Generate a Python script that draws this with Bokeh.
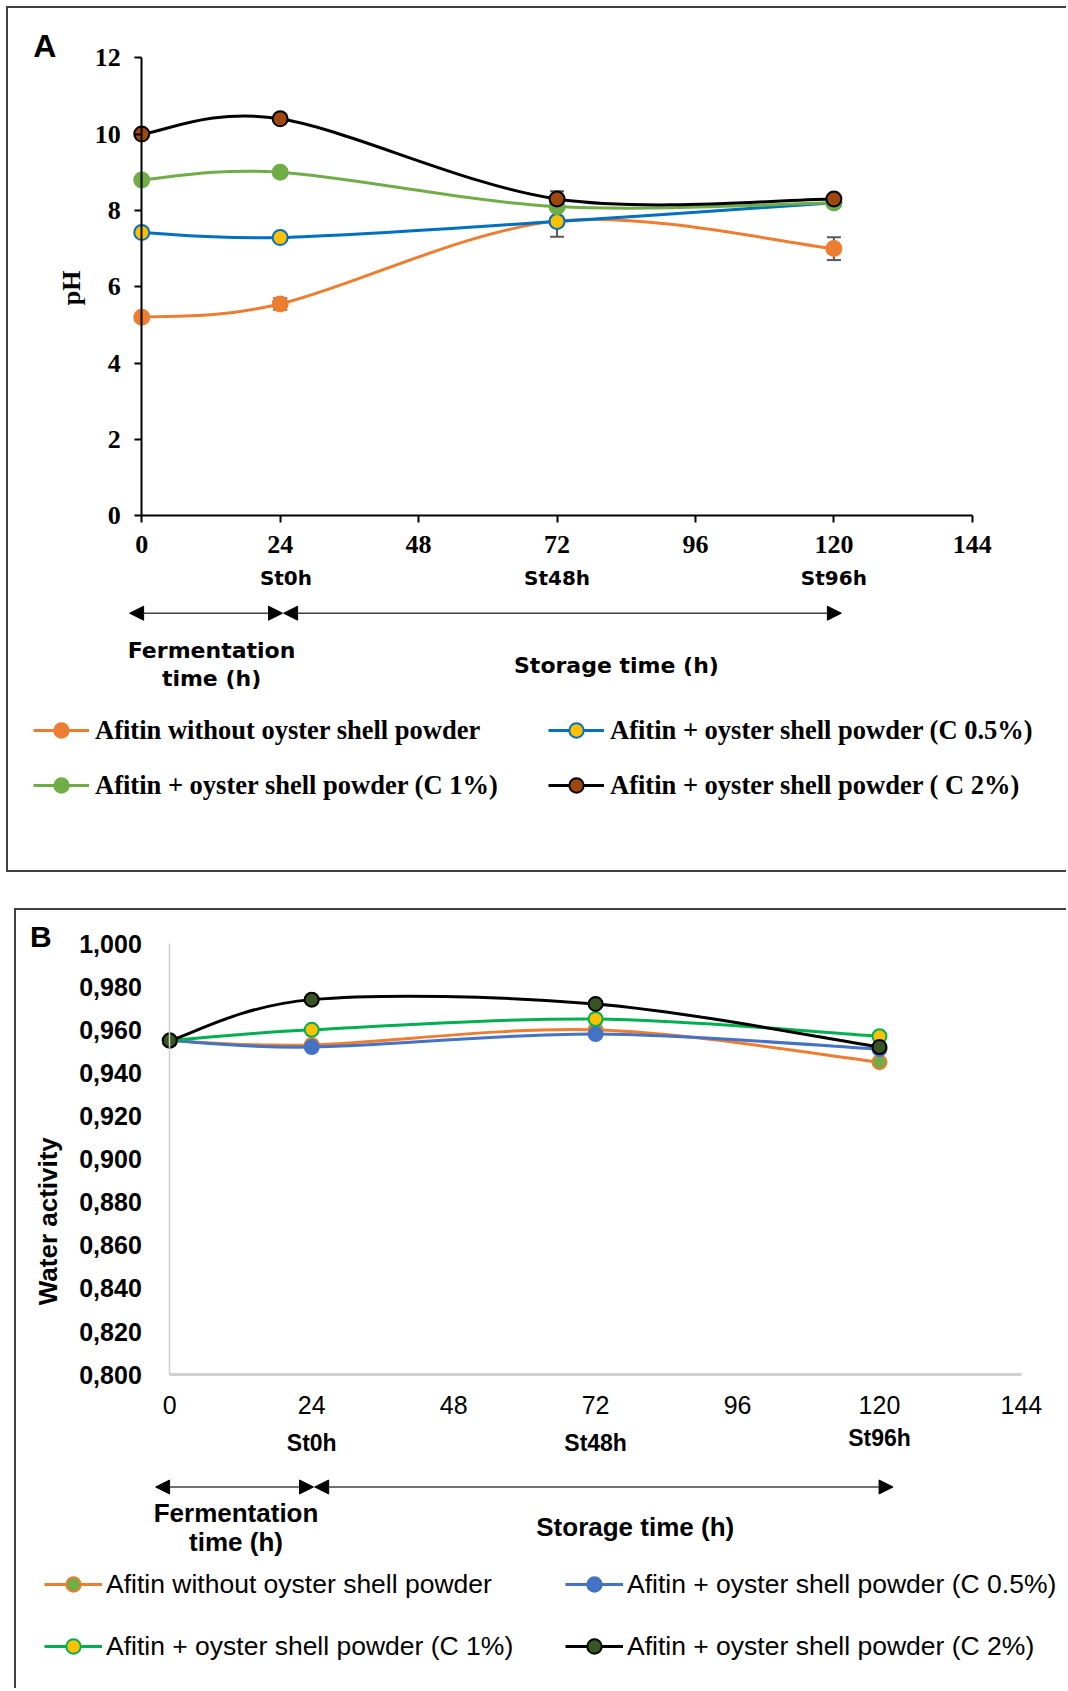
from bokeh.plotting import figure
from bokeh.models import (ColumnDataSource, Legend, LegendItem, Label, Arrow, NormalHead,
                          Whisker, TeeHead, FixedTicker, CustomJSTickFormatter, Range1d)
from bokeh.layouts import column
from bokeh.embed import file_html
from bokeh.resources import INLINE

# ---------------- data ----------------
hours = [0, 24, 72, 120]
x_ticks = [0, 24, 48, 72, 96, 120, 144]
st_hours = [24, 72, 120]
st_labels = ["St0h", "St48h", "St96h"]

names_A = ["Afitin without oyster shell powder",
           "Afitin + oyster shell powder (C 0.5%)",
           "Afitin + oyster shell powder (C 1%)",
           "Afitin + oyster shell powder ( C 2%)"]
names_B = ["Afitin without oyster shell powder",
           "Afitin + oyster shell powder (C 0.5%)",
           "Afitin + oyster shell powder (C 1%)",
           "Afitin + oyster shell powder (C 2%)"]

ph_without = [5.2, 5.55, 7.72, 7.0]
ph_c05 = [7.42, 7.29, 7.71, 8.2]
ph_c1 = [8.8, 9.0, 8.1, 8.2]
ph_c2 = [10.0, 10.4, 8.3, 8.3]
ph_err_without = [0.05, 0.15, 0.1, 0.3]
ph_err_c05 = [0.05, 0.05, 0.4, 0.05]
ph_err_c1 = [0.05, 0.05, 0.05, 0.05]
ph_err_c2 = [0.05, 0.05, 0.2, 0.05]
ph_ticks = [0, 2, 4, 6, 8, 10, 12]

aw_without = [0.955, 0.953, 0.960, 0.945]
aw_c05 = [0.955, 0.952, 0.958, 0.951]
aw_c1 = [0.955, 0.960, 0.965, 0.957]
aw_c2 = [0.955, 0.974, 0.972, 0.952]
aw_ticks = [0.80, 0.82, 0.84, 0.86, 0.88, 0.90, 0.92, 0.94, 0.96, 0.98, 1.00]


def smooth_source(xs, ys):
    """Bezier control points (Catmull-Rom style, like a smoothed spreadsheet line)."""
    n = len(xs)
    d = dict(x0=[], y0=[], x1=[], y1=[], cx0=[], cy0=[], cx1=[], cy1=[])
    for i in range(n - 1):
        pm, pp = max(i - 1, 0), min(i + 2, n - 1)
        d["x0"].append(xs[i]); d["y0"].append(ys[i])
        d["x1"].append(xs[i + 1]); d["y1"].append(ys[i + 1])
        d["cx0"].append(xs[i] + (xs[i + 1] - xs[pm]) / 6)
        d["cy0"].append(ys[i] + (ys[i + 1] - ys[pm]) / 6)
        d["cx1"].append(xs[i + 1] - (xs[pp] - xs[i]) / 6)
        d["cy1"].append(ys[i + 1] - (ys[pp] - ys[i]) / 6)
    return ColumnDataSource(d)


def add_series(p, ys, line_color, fill_color, edge_color, size):
    b = p.bezier(x0="x0", y0="y0", x1="x1", y1="y1", cx0="cx0", cy0="cy0", cx1="cx1", cy1="cy1",
                 source=smooth_source(hours, ys), line_color=line_color, line_width=3)
    s = p.scatter(hours, ys, size=size, fill_color=fill_color, line_color=edge_color, line_width=2)
    return [b, s]


def lab(p, x, y, text, font, size, bold=True, angle=0):
    p.add_layout(Label(x=x, y=y, text=text, text_align="center", text_baseline="middle",
                       text_font=font, text_font_style="bold" if bold else "normal",
                       text_font_size=size, text_color="black", angle=angle, angle_units="deg"))


def ranges(content_px, v0_px, v1_px, v0, v1):
    """Range covering the whole canvas so that v0/v1 land on the wanted pixel positions."""
    lo_px, hi_px = content_px
    per_px = (v1 - v0) / (v1_px - v0_px)
    a = v0 + (lo_px - v0_px) * per_px
    b = v0 + (hi_px - v0_px) * per_px
    return Range1d(a, b)


def head():
    return NormalHead(size=14, fill_color="black", line_color="black")


# ================= Panel A =================
A_W, A_H = 1060, 866
# canvas content spans x 8..1066 and y 8..870 on the page
xrA = ranges((8, 1066), 141, 970, 0, 144)
yrA = ranges((870, 8), 513, 57, 0, 12)
pA = figure(width=A_W, height=A_H, x_range=xrA, y_range=yrA,
            output_backend="svg", toolbar_location=None,
            min_border_left=0, min_border_right=0, min_border_top=0, min_border_bottom=0)
pA.styles = {"border-top": "2px solid #404040", "border-left": "2px solid #404040",
             "border-bottom": "2px solid #404040"}
pA.margin = (6, 0, 0, 6)
pA.outline_line_color = None
pA.grid.visible = False

serif = "Liberation Serif"
for ax in (pA.xaxis[0], pA.yaxis[0]):
    ax.fixed_location = 0
    ax.axis_line_color = "black"
    ax.axis_line_width = 2
    ax.major_tick_line_color = "black"
    ax.major_tick_line_width = 2
    ax.major_tick_out = 7
    ax.major_tick_in = 0
    ax.minor_tick_line_color = None
    ax.major_label_text_font = serif
    ax.major_label_text_font_style = "bold"
    ax.major_label_text_font_size = "26px"
    ax.major_label_text_color = "black"
pA.xaxis.bounds = (0, 144)
pA.yaxis.bounds = (0, 12)
pA.xaxis.ticker = FixedTicker(ticks=x_ticks)
pA.yaxis.ticker = FixedTicker(ticks=ph_ticks)
pA.xaxis.major_label_standoff = 13
pA.yaxis.major_label_standoff = 14

errs = [(ph_without, ph_err_without), (ph_c05, ph_err_c05), (ph_c1, ph_err_c1), (ph_c2, ph_err_c2)]
for ys, es in errs:
    src = ColumnDataSource(dict(x=hours, up=[y + e for y, e in zip(ys, es)],
                                lo=[y - e for y, e in zip(ys, es)]))
    w = Whisker(source=src, base="x", upper="up", lower="lo", dimension="height",
                line_color="#595959", line_width=2, level="underlay",
                upper_head=TeeHead(size=14, line_color="#595959", line_width=2),
                lower_head=TeeHead(size=14, line_color="#595959", line_width=2))
    pA.add_layout(w)

rA = [
    add_series(pA, ph_without, "#ED7D31", "#ED7D31", "#ED7D31", 15),
    add_series(pA, ph_c05, "#0070C0", "#FFC000", "#0070C0", 15),
    add_series(pA, ph_c1, "#70AD47", "#70AD47", "#70AD47", 15),
    add_series(pA, ph_c2, "#000000", "#9E480E", "#000000", 15),
]

legA = Legend(items=[LegendItem(label=n, renderers=r) for n, r in zip(names_A, rA)],
              location=(25, 71), orientation="horizontal", nrows=2,
              glyph_width=56, glyph_height=36, label_standoff=6, label_width=434,
              spacing=19, padding=0, margin=0,
              border_line_color=None, background_fill_alpha=0,
              label_text_font=serif, label_text_font_style="bold",
              label_text_font_size="26.5px", label_text_color="black")
pA.add_layout(legA)

sans_a = "DejaVu Sans"
for h, t in zip(st_hours, st_labels):
    lab(pA, h + (1 if h == 24 else 0), -1.62, t, sans_a, "20px")
lab(pA, 12.1, -3.52, "Fermentation", sans_a, "22px")
lab(pA, 12.1, -4.27, "time (h)", sans_a, "22px")
lab(pA, 82.3, -3.92, "Storage time (h)", sans_a, "22px")
lab(pA, -16.8, 12.3, "A", "Liberation Sans", "32px")
lab(pA, -12.1, 5.97, "pH", serif, "26px", angle=90)

pA.add_layout(Arrow(x_start=24.4, y_start=-2.55, x_end=-2.1, y_end=-2.55, start=head(), end=head(),
                    line_color="#404040", line_width=1.5))
pA.add_layout(Arrow(x_start=24.6, y_start=-2.55, x_end=121.3, y_end=-2.55, start=head(), end=head(),
                    line_color="#404040", line_width=1.5))

# ================= Panel B =================
B_W, B_H = 1052, 780
# canvas content spans x 16..1066 and y 910..1688 on the page
xrB = ranges((16, 1066), 169, 1019, 0, 144)
yrB = ranges((1688, 910), 1373, 943, 0.8, 1.0)
pB = figure(width=B_W, height=B_H, x_range=xrB, y_range=yrB,
            output_backend="svg", toolbar_location=None,
            min_border_left=0, min_border_right=0, min_border_top=0, min_border_bottom=0)
pB.styles = {"border-top": "2px solid #404040", "border-left": "2px solid #404040"}
pB.margin = (36, 0, 0, 14)
pB.outline_line_color = None
pB.grid.visible = False

arial = "Liberation Sans"
for ax in (pB.xaxis[0], pB.yaxis[0]):
    ax.major_tick_line_color = None
    ax.minor_tick_line_color = None
    ax.major_label_text_font = arial
    ax.major_label_text_font_size = "25px"
    ax.major_label_text_color = "black"
pB.xaxis.fixed_location = 0.8
pB.yaxis.fixed_location = 0
pB.xaxis.bounds = (0, 144)
pB.yaxis.bounds = (0.8, 1.0)
pB.xaxis.axis_line_color = "#D0D0D0"
pB.xaxis.axis_line_width = 3
pB.yaxis.axis_line_color = "#D0D0D0"
pB.yaxis.axis_line_width = 1.5
pB.xaxis.ticker = FixedTicker(ticks=x_ticks)
pB.yaxis.ticker = FixedTicker(ticks=aw_ticks)
pB.yaxis.formatter = CustomJSTickFormatter(code="return tick.toFixed(3).replace('.', ',');")
pB.yaxis.major_label_text_font_style = "bold"
pB.xaxis.major_label_standoff = 15
pB.yaxis.major_label_standoff = 22

rB = [
    add_series(pB, aw_without, "#ED7D31", "#70AD47", "#ED7D31", 14),
    add_series(pB, aw_c05, "#4472C4", "#4472C4", "#4472C4", 14),
    add_series(pB, aw_c1, "#00B050", "#FFC000", "#00B050", 14),
    add_series(pB, aw_c2, "#000000", "#375623", "#000000", 14),
]

legB = Legend(items=[LegendItem(label=n, renderers=r) for n, r in zip(names_B, rB)],
              location=(28, 26), orientation="horizontal", nrows=2,
              glyph_width=58, glyph_height=36, label_standoff=4, label_width=433,
              spacing=26, padding=0, margin=0,
              border_line_color=None, background_fill_alpha=0,
              label_text_font=arial, label_text_font_size="26.5px", label_text_color="black")
pB.add_layout(legB)

for h, t in zip(st_hours, st_labels):
    lab(pB, h, 0.7708 if h == 120 else 0.7684, t, arial, "23px")
lab(pB, 11.2, 0.7359, "Fermentation", arial, "26px")
lab(pB, 11.2, 0.7224, "time (h)", arial, "26px")
lab(pB, 78.7, 0.7294, "Storage time (h)", arial, "26px")
lab(pB, -21.8, 1.0033, "B", arial, "30px")
lab(pB, -20.6, 0.8712, "Water activity", arial, "26px", angle=90)
pB.add_layout(Arrow(x_start=24.3, y_start=0.7479, x_end=-2.4, y_end=0.7479, start=head(), end=head(),
                    line_color="#404040", line_width=1.5))
pB.add_layout(Arrow(x_start=24.5, y_start=0.7479, x_end=122.3, y_end=0.7479, start=head(), end=head(),
                    line_color="#404040", line_width=1.5))

layout = column(pA, pB, spacing=0)
open("out.html", "w").write(file_html(layout, INLINE))
